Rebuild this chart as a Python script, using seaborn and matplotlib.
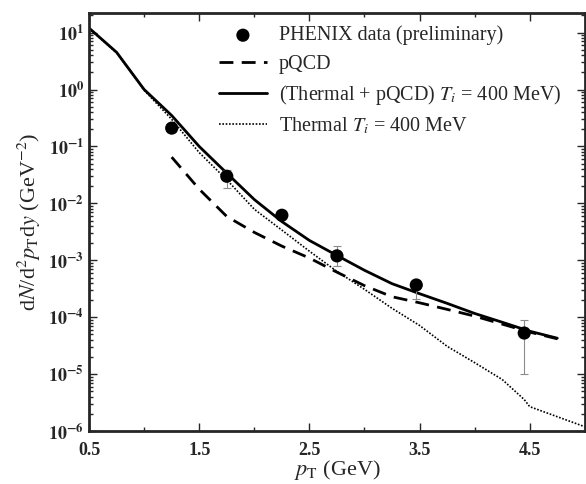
import matplotlib
matplotlib.use("Agg")
import matplotlib.pyplot as plt
import numpy as np
import seaborn as sns
from matplotlib.ticker import FixedLocator, FuncFormatter, LogLocator

# PHENIX preliminary points
data_pt = [1.25, 1.75, 2.25, 2.75, 3.47, 4.45]
data_y = [0.21, 0.030, 0.0062, 0.0012, 3.7e-4, 5.3e-5]
data_lo = [0.18, 0.019, 0.0055, 8.0e-4, 2.1e-4, 1.0e-5]
data_hi = [0.24, 0.038, 0.0070, 1.8e-3, 4.5e-4, 9.0e-5]

# thermal + pQCD (solid)
tot_pt = [0.5, 0.75, 1.0, 1.25, 1.5, 1.75, 2.0, 2.25, 2.5, 2.75, 3.0, 3.25,
          3.5, 3.75, 4.0, 4.25, 4.5, 4.75]
tot_y = [12.0, 4.5, 1.0, 0.35, 0.10, 0.034, 0.0117, 0.0048, 0.00224, 0.00122,
         6.7e-4, 3.9e-4, 2.6e-4, 1.76e-4, 1.17e-4, 8.2e-5, 5.7e-5, 4.3e-5]

# pQCD (dashed)
pqcd_pt = [1.25, 1.5, 1.75, 2.0, 2.25, 2.5, 2.75, 3.0, 3.25, 3.5, 3.75, 4.0,
           4.25, 4.5, 4.75]
pqcd_y = [0.065, 0.0178, 0.0059, 0.0031, 0.00178, 0.0011, 6.2e-4, 3.6e-4,
          2.3e-4, 1.8e-4, 1.38e-4, 1.05e-4, 7.6e-5, 5.5e-5, 4.2e-5]

# thermal only (dotted)
th_pt = [0.5, 0.75, 1.0, 1.25, 1.5, 1.75, 2.0, 2.25, 2.5, 2.75, 3.0, 3.25,
         3.5, 3.75, 4.0, 4.25, 4.45, 4.5, 4.75, 5.0]
th_y = [11.9, 4.4, 0.97, 0.30, 0.078, 0.026, 0.0079, 0.0034, 0.00145, 6.4e-4,
        3.1e-4, 1.44e-4, 7.2e-5, 3.1e-5, 1.6e-5, 8.1e-6, 3.6e-6, 2.7e-6,
        1.8e-6, 1.2e-6]

y_ticks = [1e-6, 1e-5, 1e-4, 1e-3, 1e-2, 1e-1, 1e0, 1e1]

sns.set_style("ticks")
plt.rcParams["font.family"] = ["Liberation Serif", "DejaVu Serif"]
plt.rcParams["mathtext.fontset"] = "stix"

fig = plt.figure(figsize=(5.86, 4.84), dpi=100)
ax = fig.add_axes([0.152, 0.109, 0.846, 0.864])

sns.scatterplot(x=data_pt, y=data_y, ax=ax, color="black", s=90,
                edgecolor="none", zorder=4, label="PHENIX data (preliminary)")
ax.errorbar(data_pt, data_y,
            yerr=[np.array(data_y) - np.array(data_lo),
                  np.array(data_hi) - np.array(data_y)],
            fmt="none", ecolor="#8c8c8c", elinewidth=0.8, capsize=3,
            capthick=0.8, zorder=3)
sns.lineplot(x=pqcd_pt, y=pqcd_y, ax=ax, color="black", lw=2,
             linestyle=(0, (5, 3)), label="pQCD")
sns.lineplot(x=tot_pt, y=tot_y, ax=ax, color="black", lw=2,
             label="(Thermal + pQCD) $T_i$ = 400 MeV)")
sns.lineplot(x=th_pt, y=th_y, ax=ax, color="black", lw=1.2,
             linestyle=(0, (1, 1)), label="Thermal $T_i$ = 400 MeV")

ax.set_yscale("log")
ax.set_xlim(0.5, 5.0)
ax.set_ylim(1e-6, 22)

ax.xaxis.set_major_locator(FixedLocator([0.5, 1.5, 2.5, 3.5, 4.5]))
ax.xaxis.set_minor_locator(FixedLocator([1.0, 2.0, 3.0, 4.0, 5.0]))
ax.yaxis.set_major_locator(FixedLocator(y_ticks))
ax.yaxis.set_minor_locator(LogLocator(base=10, subs=np.arange(2, 10), numticks=12))
ax.yaxis.set_major_formatter(FuncFormatter(
    lambda v, _: r"$\mathbf{10^{%d}}$" % round(np.log10(v))))
ax.yaxis.set_minor_formatter(FuncFormatter(lambda v, _: ""))
ax.xaxis.set_major_formatter(FuncFormatter(lambda v, _: f"{v:.1f}"))

ax.tick_params(which="both", direction="in", top=True, right=True,
               width=1.0, labelsize=13)
ax.tick_params(axis="x", pad=8)
ax.tick_params(which="major", length=6)
ax.tick_params(which="minor", length=3)
for lab in ax.get_xticklabels():
    lab.set_fontweight("bold")
for sp in ax.spines.values():
    sp.set_linewidth(2)

ax.set_xlabel(r"$p_{\rm T}$ (GeV)", fontsize=16, labelpad=-1)
ax.set_ylabel(r"d$N$/d$^2p_{\rm T}$d$y$ (GeV$^{-2}$)", fontsize=16, labelpad=4)

ax.legend(loc="upper left", bbox_to_anchor=(0.225, 1.013), frameon=False,
          fontsize=14.5, handlelength=2.4, labelspacing=0.45,
          handletextpad=0.6)

fig.savefig("out.png", dpi=100)
